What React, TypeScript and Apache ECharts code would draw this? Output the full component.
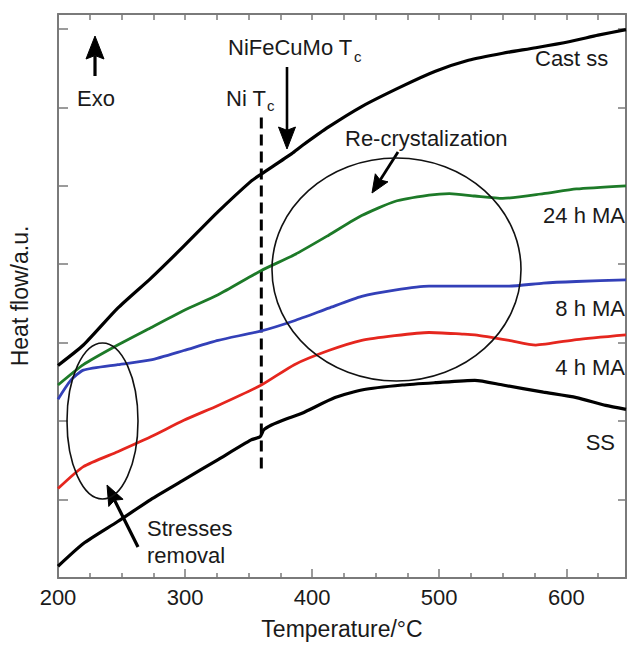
import React, { useEffect, useRef } from "react";
import * as echarts from "echarts";

const FONT = "'Liberation Sans', Arial, Helvetica, sans-serif";

// Cast ss (top black curve)
const castSsT = [200, 220, 247, 273, 299, 326, 352, 360, 384, 392, 413, 439, 471, 497, 523, 550, 576, 603, 625, 647];
const castSsV = [2.71, 2.97, 3.44, 3.82, 4.23, 4.67, 5.06, 5.15, 5.41, 5.51, 5.75, 6.01, 6.27, 6.46, 6.6, 6.69, 6.76, 6.84, 6.92, 6.99];

// 24 h MA (green)
const ma24T = [200, 220, 247, 273, 299, 326, 360, 386, 413, 439, 465, 492, 508, 528, 550, 582, 608, 647];
const ma24V = [2.46, 2.72, 2.97, 3.19, 3.41, 3.61, 3.92, 4.12, 4.37, 4.62, 4.8, 4.88, 4.9, 4.87, 4.84, 4.9, 4.96, 5.0];

// 8 h MA (blue)
const ma8T = [200, 210, 220, 247, 273, 299, 326, 360, 386, 413, 439, 465, 492, 518, 555, 582, 608, 647];
const ma8V = [2.28, 2.52, 2.65, 2.72, 2.78, 2.9, 3.03, 3.15, 3.28, 3.44, 3.59, 3.67, 3.72, 3.72, 3.72, 3.76, 3.78, 3.8];

// 4 h MA (red)
const ma4T = [200, 220, 247, 273, 299, 326, 360, 386, 413, 439, 465, 492, 518, 528, 555, 576, 608, 647];
const ma4V = [1.14, 1.42, 1.61, 1.8, 2.01, 2.2, 2.46, 2.72, 2.9, 3.03, 3.09, 3.13, 3.11, 3.1, 3.03, 2.97, 3.04, 3.1];

// SS (bottom black curve)
const ssT = [200, 220, 247, 273, 299, 326, 352, 359, 362, 368, 380, 392, 418, 440, 471, 497, 528, 550, 582, 608, 631, 647];
const ssV = [0.15, 0.44, 0.72, 1.0, 1.25, 1.51, 1.76, 1.8, 1.89, 1.95, 2.03, 2.1, 2.3, 2.4, 2.46, 2.49, 2.52, 2.46, 2.37, 2.3, 2.2, 2.15];

// Ni Tc dashed marker
const niTcT = [360, 360];
const niTcV = [5.87, 1.33];

const xTicks = [200, 300, 400, 500, 600];

const pairs = (t: number[], v: number[]) => t.map((x, i) => [x, v[i]]);

function arrow(x1: number, y1: number, x2: number, y2: number, lw: number, headLen: number, headHalf: number) {
  const dx = x2 - x1;
  const dy = y2 - y1;
  const L = Math.hypot(dx, dy);
  const ux = dx / L;
  const uy = dy / L;
  const bx = x2 - ux * headLen;
  const by = y2 - uy * headLen;
  const px = -uy;
  const py = ux;
  const nx = bx + ux * headLen * 0.15;
  const ny = by + uy * headLen * 0.15;
  return [
    {
      type: "line",
      shape: { x1, y1, x2: nx, y2: ny },
      style: { stroke: "#000", lineWidth: lw },
      silent: true,
    },
    {
      type: "polygon",
      shape: {
        points: [
          [x2, y2],
          [bx + px * headHalf, by + py * headHalf],
          [nx, ny],
          [bx - px * headHalf, by - py * headHalf],
        ],
      },
      style: { fill: "#000", stroke: "#000", lineWidth: 1 },
      silent: true,
    },
  ];
}

function txt(text: string, x: number, y: number, size: number, align: string = "left") {
  return {
    type: "text",
    x,
    y,
    silent: true,
    style: {
      text,
      fontSize: size,
      fontFamily: FONT,
      fill: "#1a1a1a",
      align,
      textAlign: align,
      verticalAlign: "middle",
      textVerticalAlign: "middle",
    },
  };
}

export default function App() {
  const ref = useRef<HTMLDivElement>(null);

  useEffect(() => {
    if (!ref.current) return;
    const chart = echarts.init(ref.current, undefined, { renderer: "svg" });
    const axisColor = "#7a7a7a";

    const lineSeries = (name: string, data: number[][], color: string, width: number) => ({
      name,
      type: "line",
      data,
      xAxisIndex: 0,
      yAxisIndex: 0,
      showSymbol: false,
      symbol: "none",
      smooth: 0.2,
      lineStyle: { color, width },
      itemStyle: { color },
      z: 3,
    });

    chart.setOption({
      animation: false,
      backgroundColor: "#fff",
      grid: { left: 58, right: 1, top: 14, bottom: 63 },
      xAxis: [
        {
          type: "value",
          position: "bottom",
          min: 200,
          max: 647,
          interval: 100,
          axisLine: { show: true, onZero: false, lineStyle: { color: axisColor, width: 2 } },
          axisTick: { show: true, inside: true, length: 9, lineStyle: { color: axisColor, width: 1.5 } },
          minorTick: { show: true, splitNumber: 4, length: 5, lineStyle: { color: axisColor, width: 1.5 } },
          splitLine: { show: false },
          minorSplitLine: { show: false },
          axisLabel: {
            color: "#1a1a1a",
            fontSize: 22,
            fontFamily: FONT,
            margin: 8,
            showMaxLabel: false,
            formatter: (v: number) => (xTicks.includes(v) ? String(v) : ""),
          },
          name: "Temperature/°C",
          nameLocation: "middle",
          nameGap: 39,
          nameTextStyle: { fontSize: 23, color: "#1a1a1a", fontFamily: FONT },
        },
        {
          type: "value",
          position: "top",
          min: 200,
          max: 647,
          interval: 25,
          axisLine: { show: true, onZero: false, lineStyle: { color: axisColor, width: 2 } },
          axisTick: { show: true, inside: true, length: 6, lineStyle: { color: axisColor, width: 1.5 } },
          splitLine: { show: false },
          axisLabel: { show: false },
        },
      ],
      yAxis: [
        {
          type: "value",
          position: "left",
          min: 0,
          max: 7.19,
          interval: 1,
          axisLine: { show: true, onZero: false, lineStyle: { color: axisColor, width: 2 } },
          axisTick: { show: true, inside: true, length: 10, lineStyle: { color: axisColor, width: 1.5 } },
          splitLine: { show: false },
          axisLabel: { show: false },
          name: "Heat flow/a.u.",
          nameLocation: "middle",
          nameGap: 27,
          nameTextStyle: { fontSize: 23, color: "#1a1a1a", fontFamily: FONT },
        },
        {
          type: "value",
          position: "right",
          min: 0,
          max: 7.19,
          interval: 1,
          axisLine: { show: true, onZero: false, lineStyle: { color: axisColor, width: 2 } },
          axisTick: { show: true, inside: true, length: 8, lineStyle: { color: axisColor, width: 1.5 } },
          splitLine: { show: false },
          axisLabel: { show: false },
        },
      ],
      series: [
        lineSeries("Cast ss", pairs(castSsT, castSsV), "#000000", 3.2),
        lineSeries("24 h MA", pairs(ma24T, ma24V), "#1d7a28", 2.8),
        lineSeries("8 h MA", pairs(ma8T, ma8V), "#3340b8", 2.8),
        lineSeries("4 h MA", pairs(ma4T, ma4V), "#e5261e", 2.8),
        lineSeries("SS", pairs(ssT, ssV), "#000000", 3.2),
        {
          name: "Ni Tc",
          type: "line",
          data: pairs(niTcT, niTcV),
          showSymbol: false,
          symbol: "none",
          lineStyle: { color: "#000", width: 3, type: [11, 6] },
          z: 2,
        },
      ],
      graphic: [
        {
          type: "ellipse",
          shape: { cx: 102.5, cy: 421, rx: 35.5, ry: 78 },
          style: { fill: "none", stroke: "#111", lineWidth: 1.6 },
          silent: true,
          z: 10,
        },
        {
          type: "ellipse",
          shape: { cx: 396.5, cy: 269.5, rx: 124.5, ry: 111.5 },
          style: { fill: "none", stroke: "#111", lineWidth: 1.6 },
          silent: true,
          z: 10,
        },
        ...arrow(95, 76, 95, 36, 3.2, 23, 9),
        ...arrow(287, 67, 287, 149, 2.6, 22, 8.5),
        ...arrow(398, 152, 372, 193, 2.8, 18, 7.5),
        ...arrow(138, 547, 107, 485, 3.2, 20, 8),
        txt("Exo", 77, 98, 22),
        txt("NiFeCuMo T", 228, 47, 22),
        txt("c", 354, 56, 15),
        txt("Ni T", 226, 98, 22),
        txt("c", 267, 105, 15),
        txt("Re-crystalization", 345, 138, 22),
        txt("Cast ss", 535, 58, 22),
        txt("24 h MA", 625, 215, 22, "right"),
        txt("8 h MA", 625, 308, 22, "right"),
        txt("4 h MA", 625, 367, 22, "right"),
        txt("SS", 615, 442, 22, "right"),
        txt("Stresses", 147, 528, 22),
        txt("removal", 147, 555, 22),
      ],
    });

    return () => chart.dispose();
  }, []);

  return (
    <div
      ref={ref}
      style={{ position: "fixed", left: 0, top: 0, width: 627, height: 645, background: "#fff" }}
    />
  );
}
